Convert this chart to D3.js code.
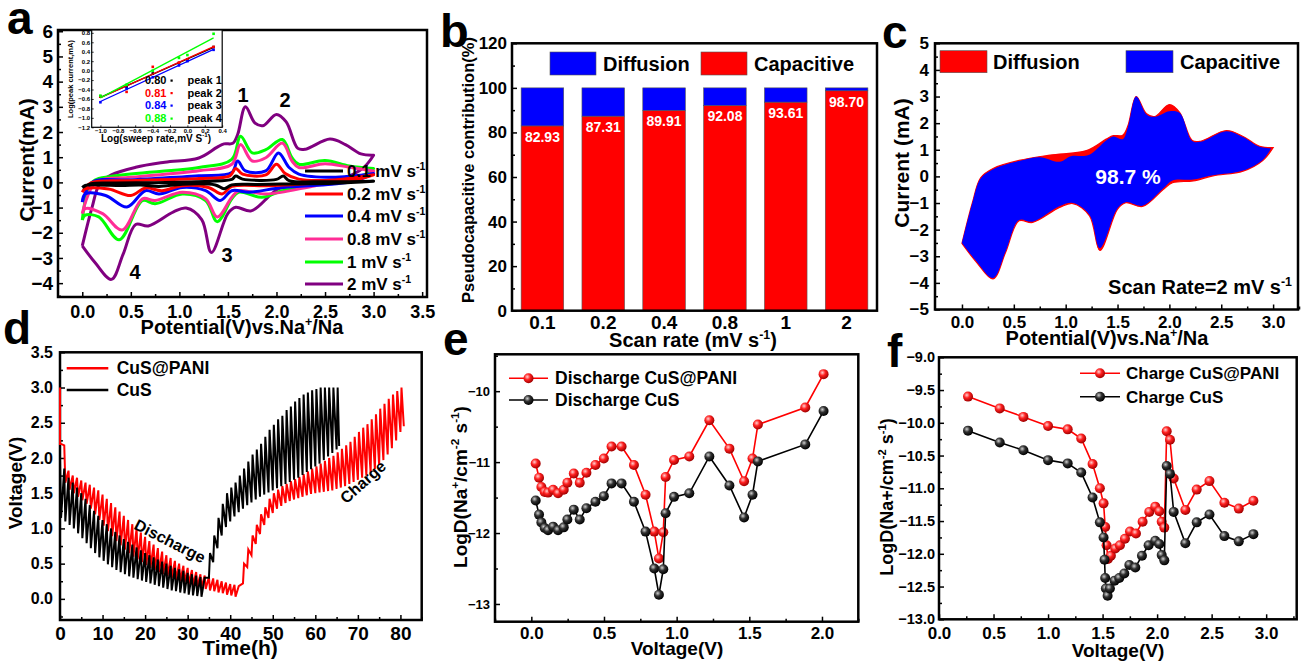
<!DOCTYPE html>
<html><head><meta charset="utf-8">
<script src="https://cdn.jsdelivr.net/npm/d3@7"></script>
<style>body{margin:0;background:#fff}</style>
</head><body>
<script>
// ---------------- DATA ----------------
// Panel a: CV curves (anodic up branch, cathodic down branch) [V, mA]
const cv01Up=[[0,-0.2],[0.09,-0.05],[0.3,-0.02],[0.86,0.0],[1.3,0.05],[1.54,0.12],[1.58,0.25],[1.65,0.13],[2.0,0.12],[2.07,0.25],[2.13,0.07],[2.5,0.03],[3.0,0.05]];
const cv01Dn=[[3.0,0.05],[2.6,-0.03],[2.23,-0.06],[1.8,-0.08],[1.54,-0.1],[1.46,-0.25],[1.37,-0.1],[1.03,-0.07],[0.79,-0.16],[0.6,-0.1],[0.4,-0.12],[0.17,-0.1],[0.03,-0.12],[0,-0.2]];
const cv02Up=[[0,-0.39],[0.09,-0.02],[0.5,0.07],[1.2,0.15],[1.52,0.26],[1.58,0.55],[1.65,0.33],[1.89,0.3],[2.0,0.72],[2.09,0.35],[2.23,0.13],[2.6,0.1],[3.0,0.3]];
const cv02Dn=[[3.0,0.3],[2.8,0.1],[2.23,-0.07],[1.89,-0.13],[1.54,-0.16],[1.44,-0.46],[1.3,-0.2],[1.03,-0.13],[0.82,-0.33],[0.65,-0.22],[0.5,-0.52],[0.27,-0.26],[0.03,-0.26],[0,-0.39]];
const cv04Up=[[0,-0.78],[0.1,0.0],[0.5,0.1],[1.2,0.26],[1.54,0.39],[1.6,0.85],[1.68,0.46],[1.89,0.46],[2.02,1.17],[2.13,0.59],[2.23,0.33],[2.57,0.2],[3.0,0.35]];
const cv04Dn=[[3.0,0.35],[2.8,0.05],[2.57,-0.07],[2.06,-0.2],[1.72,-0.39],[1.54,-0.33],[1.42,-0.72],[1.27,-0.33],[1.03,-0.2],[0.79,-0.46],[0.65,-0.33],[0.46,-0.98],[0.24,-0.52],[0.03,-0.46],[0,-0.78]];
const cv08Up=[[0,-1.24],[0.14,0.0],[0.5,0.2],[1.2,0.46],[1.54,0.72],[1.63,1.5],[1.75,0.85],[1.89,0.98],[2.06,1.56],[2.16,0.85],[2.23,0.59],[2.5,0.74],[2.75,0.6],[3.0,0.45]];
const cv08Dn=[[3.0,0.45],[2.92,0.26],[2.4,-0.13],[1.89,-0.46],[1.61,-0.33],[1.54,-0.59],[1.39,-1.37],[1.27,-0.65],[1.03,-0.39],[0.75,-0.72],[0.62,-0.65],[0.41,-1.89],[0.21,-1.24],[0.03,-1.04],[0,-1.24]];
const cv1Up=[[0,-1.5],[0.1,0.0],[0.34,0.26],[1.2,0.59],[1.54,0.91],[1.63,1.83],[1.75,1.17],[1.89,1.3],[2.06,1.7],[2.16,0.98],[2.23,0.72],[2.5,0.87],[2.75,0.65],[3.0,0.55]];
const cv1Dn=[[3.0,0.55],[2.92,0.33],[2.4,-0.07],[2.06,-0.33],[1.85,-0.59],[1.61,-0.39],[1.54,-0.65],[1.39,-1.56],[1.27,-0.72],[1.03,-0.46],[0.75,-0.85],[0.62,-0.72],[0.38,-2.28],[0.17,-1.37],[0.03,-1.3],[0,-1.5]];
const cv2Up=[[0,-2.52],[0.1,-1.0],[0.18,-0.05],[0.3,0.3],[0.55,0.6],[0.85,0.8],[1.2,0.97],[1.39,1.4],[1.46,1.53],[1.55,1.55],[1.6,1.9],[1.68,3.0],[1.78,2.35],[1.86,2.25],[2.0,2.7],[2.1,2.4],[2.22,1.35],[2.3,1.32],[2.55,1.72],[2.71,1.5],[2.87,1.13],[3.0,1.08]];
const cv2Dn=[[3.0,1.08],[2.9,0.6],[2.71,0.2],[2.42,0.02],[2.23,-0.17],[2.03,-0.24],[1.94,-0.49],[1.74,-1.13],[1.58,-0.99],[1.5,-1.23],[1.33,-2.78],[1.23,-1.48],[1.07,-1.02],[0.94,-1.17],[0.68,-1.73],[0.55,-1.67],[0.42,-2.86],[0.3,-3.85],[0.135,-3.2],[0,-2.52]];
const cvLabels=["0.1","0.2","0.4","0.8","1","2"];
const cvColors=["#000000","#ff0000","#0000ff","#ff2d96","#00ff00","#800080"];
// inset: log(sweep rate) vs log(peak current)
const logRate=[-1,-0.699,-0.398,-0.097,0,0.301];
const peak1=[-0.55,-0.35,-0.06,0.16,0.24,0.5];
const peak2=[-0.55,-0.45,0.08,0.17,0.22,0.5];
const peak3=[-0.67,-0.38,-0.14,0.11,0.2,0.44];
const peak4=[-0.53,-0.3,0.0,0.27,0.33,0.78];
const bValues=["0.80","0.81","0.84","0.88"];
const peakColors=["#000000","#ff0000","#0000ff","#00ff00"];
// Panel b
const scanRates=["0.1","0.2","0.4","0.8","1","2"];
const capacitive=[82.93,87.31,89.91,92.08,93.61,98.70];
const diffusion=[17.07,12.69,10.09,7.92,6.39,1.30];
// Panel c: capacitive part of 2 mV/s CV
const capUp=[[0,-2.5],[0.1,-1.0],[0.18,-0.08],[0.3,0.27],[0.55,0.58],[0.75,0.72],[0.94,0.55],[1.05,0.76],[1.22,0.8],[1.39,1.35],[1.46,1.5],[1.55,1.4],[1.6,1.85],[1.68,3.0],[1.78,2.33],[1.86,2.24],[2.0,2.45],[2.1,2.38],[2.22,1.33],[2.3,1.3],[2.55,1.7],[2.71,1.48],[2.87,1.11],[2.98,1.05]];
const capDn=[[2.98,1.05],[2.9,0.62],[2.71,0.22],[2.42,0.04],[2.23,-0.12],[2.03,-0.15],[1.94,-0.45],[1.74,-1.1],[1.58,-0.97],[1.5,-1.2],[1.33,-2.7],[1.23,-1.45],[1.07,-1.0],[0.94,-1.12],[0.68,-1.7],[0.55,-1.64],[0.42,-2.83],[0.3,-3.82],[0.135,-3.17],[0,-2.5]];
// Panel d: GITT
const cusDisTime=[0,1,2,3,4,5,6,7,8,9,10,11,12,13,14,15,16,17,18,19,20,21,22,23,24,25,26,27,28,29,30,31,32,33,34];
const cusDisTop=[1.98,1.85,1.72,1.65,1.58,1.5,1.42,1.33,1.25,1.18,1.12,1.06,1.0,0.95,0.9,0.85,0.81,0.77,0.73,0.69,0.65,0.62,0.59,0.56,0.53,0.5,0.47,0.44,0.42,0.4,0.37,0.35,0.33,0.31,0.3];
const cusDisLow=[1.15,1.1,1.05,1.0,0.93,0.86,0.79,0.72,0.65,0.59,0.54,0.49,0.45,0.41,0.38,0.35,0.32,0.3,0.28,0.26,0.24,0.22,0.2,0.18,0.16,0.14,0.12,0.11,0.09,0.08,0.06,0.05,0.04,0.03];
const cusChgTime=[35,36,37,38,39,40,41,42,43,44,45,46,47,48,49,50,51,52,53,54,55,56,57,58,59,60,61,62,63,64,65,65.6];
const cusChgBase=[0.3,0.52,0.72,0.9,1.02,1.1,1.17,1.23,1.28,1.33,1.37,1.41,1.45,1.48,1.51,1.54,1.57,1.6,1.63,1.66,1.69,1.72,1.76,1.8,1.84,1.88,1.92,1.97,2.02,2.07,2.12,2.17];
const cusChgHigh=[0.65,0.9,1.15,1.35,1.5,1.58,1.65,1.75,1.85,1.95,2.05,2.12,2.2,2.3,2.4,2.47,2.55,2.6,2.68,2.73,2.8,2.85,2.9,2.93,2.96,2.98,3.0,3.0,3.0,3.0,3.0];
const panStart=[0,3.0];
const panDisTime=[0,1,2,3,4,5,6,7,8,9,10,11,12,13,14,15,16,17,18,19,20,21,22,23,24,25,26,27,28,29,30,31,32,33,34,35,36,37,38,39,40,41,42];
const panDisTop=[2.2,2.18,1.82,1.75,1.72,1.68,1.65,1.62,1.58,1.54,1.48,1.42,1.36,1.3,1.24,1.18,1.12,1.06,1.0,0.94,0.88,0.82,0.77,0.72,0.67,0.62,0.58,0.54,0.5,0.47,0.44,0.41,0.38,0.35,0.33,0.31,0.29,0.27,0.25,0.23,0.21,0.2,0.18];
const panDisLow=[2.2,1.65,1.55,1.5,1.45,1.4,1.35,1.28,1.2,1.12,1.04,0.96,0.89,0.82,0.76,0.7,0.65,0.6,0.56,0.52,0.48,0.44,0.41,0.38,0.35,0.32,0.29,0.27,0.25,0.23,0.21,0.19,0.17,0.16,0.14,0.12,0.11,0.09,0.08,0.06,0.05,0.03];
const panChgTime=[43,44,45,46,47,48,49,50,51,52,53,54,55,56,57,58,59,60,61,62,63,64,65,66,67,68,69,70,71,72,73,74,75,76,77,78,79,80,80.8];
const panChgBase=[0.22,0.45,0.62,0.78,0.92,1.05,1.15,1.22,1.28,1.32,1.36,1.39,1.41,1.43,1.45,1.47,1.49,1.5,1.51,1.52,1.53,1.54,1.56,1.58,1.6,1.63,1.66,1.69,1.72,1.75,1.79,1.84,1.9,1.97,2.05,2.14,2.25,2.37,2.45];
const panChgHigh=[0.5,0.7,0.9,1.05,1.2,1.3,1.42,1.5,1.55,1.6,1.63,1.67,1.7,1.73,1.77,1.81,1.85,1.88,1.92,1.96,2.0,2.03,2.08,2.13,2.18,2.23,2.3,2.37,2.43,2.48,2.55,2.62,2.7,2.77,2.84,2.9,2.95,3.0];
// Panel e
const eV=[0.03,0.053,0.069,0.092,0.115,0.15,0.184,0.223,0.248,0.292,0.333,0.379,0.441,0.499,0.552,0.621,0.706,0.786,0.846,0.878,0.908,0.924,0.982,1.087,1.225,1.363,1.464,1.522,1.559,1.885,2.011];
const eRed=[-11.02,-11.22,-11.35,-11.42,-11.43,-11.39,-11.44,-11.39,-11.29,-11.16,-11.29,-11.15,-11.04,-10.95,-10.78,-10.78,-11.04,-11.46,-11.98,-12.36,-11.99,-11.21,-10.97,-10.92,-10.41,-10.81,-11.27,-10.95,-10.47,-10.23,-9.76];
const eBlack=[-11.54,-11.74,-11.85,-11.93,-11.96,-11.91,-11.96,-11.92,-11.81,-11.67,-11.81,-11.65,-11.56,-11.48,-11.3,-11.3,-11.56,-11.98,-12.5,-12.87,-12.51,-11.72,-11.49,-11.44,-10.92,-11.33,-11.78,-11.46,-10.99,-10.75,-10.28];
// Panel f
const fVRed=[0.266,0.557,0.774,1.0,1.18,1.304,1.408,1.475,1.509,1.524,1.537,1.549,1.576,1.616,1.659,1.705,1.751,1.806,1.867,1.928,1.983,2.02,2.042,2.066,2.088,2.118,2.152,2.259,2.363,2.48,2.617,2.749,2.883];
const fRed=[-9.6,-9.78,-9.91,-10.05,-10.1,-10.24,-10.63,-11.0,-11.23,-11.59,-11.87,-12.08,-12.03,-11.92,-11.87,-11.77,-11.66,-11.69,-11.51,-11.36,-11.28,-11.35,-11.51,-11.6,-10.13,-10.26,-10.85,-11.33,-11.02,-10.89,-11.22,-11.31,-11.19];
const fVBlack=[0.266,0.557,0.774,1.0,1.18,1.304,1.408,1.475,1.509,1.518,1.524,1.53,1.546,1.567,1.61,1.653,1.699,1.745,1.8,1.861,1.922,1.983,2.02,2.042,2.066,2.088,2.118,2.152,2.259,2.363,2.48,2.617,2.749,2.883];
const fBlack=[-10.12,-10.3,-10.42,-10.57,-10.62,-10.76,-11.14,-11.52,-11.75,-12.09,-12.37,-12.53,-12.64,-12.53,-12.41,-12.37,-12.3,-12.17,-12.21,-12.03,-11.87,-11.8,-11.85,-12.02,-12.1,-10.66,-10.78,-11.36,-11.84,-11.52,-11.4,-11.73,-11.81,-11.7];

// ---------------- HELPERS ----------------
const F="'Liberation Sans', Arial, Helvetica, sans-serif";
const svg=d3.select("body").append("svg").attr("width",1301).attr("height",661);
svg.append("rect").attr("width",1301).attr("height",661).attr("fill","#fff");
const defs=svg.append("defs");
function grad(id,c0,c1,c2){
  const g=defs.append("radialGradient").attr("id",id).attr("cx","38%").attr("cy","35%").attr("r","65%");
  g.append("stop").attr("offset","0%").attr("stop-color",c0);
  g.append("stop").attr("offset","45%").attr("stop-color",c1);
  g.append("stop").attr("offset","100%").attr("stop-color",c2);
}
grad("gRed","#ffd0d0","#ff2020","#a00000");
grad("gBlk","#d0d0d0","#303030","#000000");

function rich(g,x,y,parts,fs,o={}){
  const t=g.append("text").attr("x",x).attr("y",y+0.35*fs).attr("font-family",F).attr("font-weight","bold")
    .attr("font-size",fs).attr("text-anchor",o.anchor||"start").attr("fill",o.fill||"#000");
  if(o.rot!==undefined) t.attr("transform",`rotate(${o.rot},${x},${y})`);
  let prev=false;
  parts.forEach(p=>{
    const s=typeof p==="string"?p:p[0]; const sup=typeof p!=="string";
    const ts=t.append("tspan").text(s);
    if(sup){ts.attr("font-size",fs*0.62); if(!prev) ts.attr("dy",-0.42*fs);}
    else if(prev){ts.attr("dy",0.42*fs);}
    prev=sup;
  });
  return t;
}
function styleAxis(sel,fs){
  sel.select(".domain").remove();
  sel.attr("font-family",F).attr("font-size",fs).attr("font-weight","bold");
  sel.selectAll(".tick line").attr("stroke-width",1.5);
}
// ticks point inward (into the plot)
function axes(g,x,y,o){
  const yb=y.range()[0], xl=x.range()[0];
  const gx=g.append("g").attr("transform",`translate(0,${yb})`)
    .call(d3.axisBottom(x).tickValues(o.xt).tickFormat(o.xf).tickSizeInner(-(o.xtl??5)).tickSizeOuter(0).tickPadding(o.xp));
  styleAxis(gx,o.xfs);
  if(o.xm){const m=g.append("g").attr("transform",`translate(0,${yb})`).call(d3.axisBottom(x).tickValues(o.xm).tickFormat("").tickSizeInner(-3).tickSizeOuter(0));styleAxis(m,10);}
  const gy=g.append("g").attr("transform",`translate(${xl},0)`)
    .call(d3.axisLeft(y).tickValues(o.yt).tickFormat(o.yf).tickSizeInner(-5).tickSizeOuter(0).tickPadding(o.yp));
  styleAxis(gy,o.yfs);
  if(o.ym){const m=g.append("g").attr("transform",`translate(${xl},0)`).call(d3.axisLeft(y).tickValues(o.ym).tickFormat("").tickSizeInner(-3).tickSizeOuter(0));styleAxis(m,10);}
}
function frame(g,x,y,sw){
  const [x0,x1]=x.range(), [y0,y1]=y.range();
  g.append("rect").attr("x",x0).attr("y",y1).attr("width",x1-x0).attr("height",y0-y1)
    .attr("fill","none").attr("stroke","#000").attr("stroke-width",sw||2.5);
}
function panelLabel(ch,x,y,fs){
  svg.append("text").attr("x",x).attr("y",y).attr("font-family",F).attr("font-weight","bold").attr("font-size",fs||46).text(ch);
}
function loopPath(line,up,dn){
  return line(up)+line(dn).replace(/^M/,"L")+"Z";
}
const rng=(a,b,s)=>d3.range(a,b+s/2,s);

// ---------------- PANEL A ----------------
{
  const g=svg.append("g");
  const x=d3.scaleLinear([-0.25,3.55],[58,427]);
  const y=d3.scaleLinear([-4.55,6.05],[297,30]);
  axes(g,x,y,{xt:rng(0,3.5,0.5),xf:d3.format(".1f"),xfs:18,xp:8,xm:rng(0.25,3.25,0.5),
    yt:rng(-4,6,1),yf:d3.format("d"),yfs:19,ym:rng(-4.5,5.5,1),yp:5});
  const line=d3.line().x(d=>x(d[0])).y(d=>y(d[1])).curve(d3.curveCatmullRom.alpha(0.5));
  const ups=[cv01Up,cv02Up,cv04Up,cv08Up,cv1Up,cv2Up], dns=[cv01Dn,cv02Dn,cv04Dn,cv08Dn,cv1Dn,cv2Dn];
  [5,4,3,2,1,0].forEach(i=>{
    g.append("path").attr("d",line(ups[i])+line(dns[i]).replace(/^M/,"L")).attr("fill","none")
      .attr("stroke",cvColors[i]).attr("stroke-width",3).attr("stroke-linejoin","round");
  });
  const ly=[171,194,216,239,262,284];
  cvLabels.forEach((l,i)=>{
    g.append("line").attr("x1",305).attr("x2",343).attr("y1",ly[i]).attr("y2",ly[i]).attr("stroke",cvColors[i]).attr("stroke-width",3);
    rich(g,347,ly[i],[l+" mV s",["-1"]],17);
  });
  [["1",243,95],["2",285,100],["3",227,255],["4",135,272]].forEach(a=>rich(g,a[1],a[2],[a[0]],20,{anchor:"middle"}));
  rich(g,27,160,["Current(mA)"],21,{anchor:"middle",rot:-90});
  rich(g,242,327,["Potential(V)vs.Na",["+"],"/Na"],20,{anchor:"middle"});
  frame(g,x,y);
  // inset
  const ix=d3.scaleLinear([-1.1,0.4],[91.7,222.2]);
  const iy=d3.scaleLinear([-1.2,0.86],[127.3,30]);
  g.append("rect").attr("x",91.7).attr("y",30).attr("width",130.5).attr("height",97.3).attr("fill","#fff");
  const gx=g.append("g").attr("transform","translate(0,127.3)").call(d3.axisBottom(ix).tickValues(rng(-1,0.4,0.2)).tickFormat(d3.format(".1f")).tickSizeInner(-2).tickSizeOuter(0).tickPadding(1.5));
  styleAxis(gx,6); gx.selectAll(".tick line").attr("stroke-width",0.8);
  const gy=g.append("g").attr("transform","translate(91.7,0)").call(d3.axisLeft(iy).tickValues(rng(-1.2,0.8,0.2)).tickFormat(d3.format(".1f")).tickSizeInner(-2).tickSizeOuter(0).tickPadding(1.5));
  styleAxis(gy,6); gy.selectAll(".tick line").attr("stroke-width",0.8);
  [peak1,peak2,peak3,peak4].forEach((p,k)=>{
    const pts=logRate.map((v,i)=>[v,p[i]]);
    const mx=d3.mean(logRate), my=d3.mean(p);
    const sl=d3.sum(logRate.map((v,i)=>(v-mx)*(p[i]-my)))/d3.sum(logRate.map(v=>(v-mx)*(v-mx)));
    const b=my-sl*mx;
    g.append("line").attr("x1",ix(-1)).attr("x2",ix(0.301)).attr("y1",iy(-sl+b)).attr("y2",iy(sl*0.301+b))
      .attr("stroke",peakColors[k]).attr("stroke-width",1.3);
    g.selectAll(null).data(pts).join("rect").attr("x",d=>ix(d[0])-1.3).attr("y",d=>iy(d[1])-1.3).attr("width",2.6).attr("height",2.6).attr("fill",peakColors[k]);
  });
  const iry=[80.5,93,105.5,118.5];
  bValues.forEach((b,k)=>{
    rich(g,145,iry[k],[b],11,{fill:peakColors[k]});
    g.append("rect").attr("x",170.5).attr("y",iry[k]-1).attr("width",2.2).attr("height",2.2).attr("fill",peakColors[k]);
    rich(g,187.5,iry[k],["peak "+(k+1)],11);
  });
  g.append("rect").attr("x",91.7).attr("y",30).attr("width",130.5).attr("height",97.3).attr("fill","none").attr("stroke","#000").attr("stroke-width",1.2);
  rich(g,70,79,["Log(peak current,mA)"],7.5,{anchor:"middle",rot:-90});
  rich(g,156,138,["Log(sweep rate,mV S",["-1"],")"],10,{anchor:"middle"});
  panelLabel("a",7,34,46);
}

// ---------------- PANEL B ----------------
{
  const g=svg.append("g");
  const x=d3.scaleBand(scanRates,[512,877]).paddingInner(0.3).paddingOuter(0.15);
  const y=d3.scaleLinear([0,120],[310.7,43.3]);
  axes(g,x,y,{xt:scanRates,xf:d=>d,xfs:19,xtl:0,xp:5,yt:rng(0,120,20),yf:d3.format("d"),yfs:17,ym:rng(10,110,20),yp:5});
  g.selectAll(null).data(scanRates).join("rect").attr("x",d=>x(d)).attr("width",x.bandwidth())
    .attr("y",(d,i)=>y(capacitive[i])).attr("height",(d,i)=>y(0)-y(capacitive[i])).attr("fill","#ff0000").attr("stroke","#555").attr("stroke-width",0.6);
  g.selectAll(null).data(scanRates).join("rect").attr("x",d=>x(d)).attr("width",x.bandwidth())
    .attr("y",(d,i)=>y(capacitive[i]+diffusion[i])).attr("height",(d,i)=>y(capacitive[i])-y(capacitive[i]+diffusion[i])).attr("fill","#0000ff").attr("stroke","#555").attr("stroke-width",0.6);
  scanRates.forEach((d,i)=>rich(g,x(d)+x.bandwidth()/2,y(capacitive[i])+11,[capacitive[i].toFixed(2)],14,{anchor:"middle",fill:"#fff"}));
  g.append("rect").attr("x",550).attr("y",52).attr("width",46).attr("height",23).attr("fill","#0000ff").attr("stroke","#555").attr("stroke-width",0.6);
  rich(g,603,63.5,["Diffusion"],20);
  g.append("rect").attr("x",701).attr("y",52).attr("width",46).attr("height",23).attr("fill","#ff0000").attr("stroke","#555").attr("stroke-width",0.6);
  rich(g,754,63.5,["Capacitive"],20);
  frame(g,{range:()=>[512,877]},y);
  rich(g,468,170,["Pseudocapacitive contribution(%)"],16.5,{anchor:"middle",rot:-90});
  rich(g,693,340,["Scan rate (mV s",["-1"],")"],20,{anchor:"middle"});
  panelLabel("b",440,47,47);
}

// ---------------- PANEL C ----------------
{
  const g=svg.append("g");
  const x=d3.scaleLinear([-0.26,3.24],[935,1298]);
  const y=d3.scaleLinear([-5,5],[309.5,43.3]);
  axes(g,x,y,{xt:rng(0,3,0.5),xf:d3.format(".1f"),xfs:17,xp:6,xm:rng(0.25,3.25,0.5),yt:rng(-5,5,1),yf:d3.format("d"),yfs:17,ym:rng(-4.5,4.5,1),yp:6});
  const line=d3.line().x(d=>x(d[0])).y(d=>y(d[1])).curve(d3.curveCatmullRom.alpha(0.5));
  g.append("path").attr("d",loopPath(line,cv2Up,cv2Dn)).attr("fill","#ff0000").attr("stroke","#ff0000").attr("stroke-width",1.2);
  g.append("path").attr("d",loopPath(line,capUp,capDn)).attr("fill","#0000ff");
  g.append("rect").attr("x",940).attr("y",50.7).attr("width",47).attr("height",22).attr("fill","#ff0000").attr("stroke","#555").attr("stroke-width",0.6);
  rich(g,993,62,["Diffusion"],20);
  g.append("rect").attr("x",1126).attr("y",50.7).attr("width",47).attr("height",22).attr("fill","#0000ff").attr("stroke","#555").attr("stroke-width",0.6);
  rich(g,1180,62,["Capacitive"],20);
  rich(g,1128,177,["98.7 %"],21,{anchor:"middle",fill:"#fff"});
  rich(g,1292,287,["Scan Rate=2 mV s",["-1"]],20,{anchor:"end"});
  frame(g,x,y);
  rich(g,902,163,["Current (mA)"],21,{anchor:"middle",rot:-90});
  rich(g,1107,338,["Potential(V)vs.Na",["+"],"/Na"],20,{anchor:"middle"});
  panelLabel("c",882,48,46);
}

// ---------------- PANEL D ----------------
{
  const g=svg.append("g");
  const x=d3.scaleLinear([0,85],[60,421.7]);
  const y=d3.scaleLinear([-0.3,3.5],[620,352.3]);
  axes(g,x,y,{xt:rng(0,80,10),xf:d3.format("d"),xfs:19,xp:6.5,xm:rng(5,85,10),yt:rng(0,3.5,0.5),yf:d3.format(".1f"),yfs:16,ym:rng(-0.25,3.25,0.5),yp:7});
  const line=d3.line().x(d=>x(d[0])).y(d=>y(d[1]));
  const pw=0.25;
  function disPts(T,top,low,pre){
    const p=pre?[pre]:[];
    low.forEach((l,i)=>{p.push([T[i],top[i]]);p.push([T[i]+pw,l]);});
    p.push([T[T.length-1],top[top.length-1]]);
    return p;
  }
  function chgPts(T,base,high){
    const p=[];
    high.forEach((h,i)=>{p.push([T[i],base[i]]);p.push([T[i]+pw,h]);});
    p.push([T[T.length-1],base[base.length-1]]);
    return p;
  }
  const red=disPts(panDisTime,panDisTop,panDisLow,panStart).concat(chgPts(panChgTime,panChgBase,panChgHigh));
  const blk=disPts(cusDisTime,cusDisTop,cusDisLow).concat(chgPts(cusChgTime,cusChgBase,cusChgHigh));
  frame(g,x,y);
  g.append("path").attr("d",line(red)).attr("fill","none").attr("stroke","#ff0000").attr("stroke-width",2);
  g.append("path").attr("d",line(blk)).attr("fill","none").attr("stroke","#000").attr("stroke-width",2);
  g.append("line").attr("x1",66.7).attr("x2",108.3).attr("y1",368.3).attr("y2",368.3).attr("stroke","#ff0000").attr("stroke-width",2.5);
  rich(g,116.7,368.3,["CuS@PANI"],17.5);
  g.append("line").attr("x1",66.7).attr("x2",108.3).attr("y1",390).attr("y2",390).attr("stroke","#000").attr("stroke-width",2.5);
  rich(g,116.7,390,["CuS"],17.5);
  rich(g,170,541,["Discharge"],16,{anchor:"middle",rot:27});
  rich(g,363,482,["Charge"],16,{anchor:"middle",rot:-42});
  rich(g,15,483,["Voltage(V)"],19,{anchor:"middle",rot:-90});
  rich(g,240,648,["Time(h)"],21,{anchor:"middle"});
  panelLabel("d",3,344,46);
}

// ---------------- PANEL E / F ----------------
function diffPanel(o){
  const g=svg.append("g");
  const {x,y}=o;
  axes(g,x,y,o.ax);
  const line=d3.line().x(d=>x(d[0])).y(d=>y(d[1]));
  o.series.forEach(s=>{
    const pts=s.v.map((v,i)=>[v,s.d[i]]);
    g.append("path").attr("d",line(pts)).attr("fill","none").attr("stroke",s.c).attr("stroke-width",1.6);
    g.selectAll(null).data(pts).join("circle").attr("cx",d=>x(d[0])).attr("cy",d=>y(d[1])).attr("r",5).attr("fill",`url(#${s.g})`);
  });
  o.series.forEach((s,i)=>{
    const ly=o.leg.y[i];
    g.append("line").attr("x1",o.leg.x0).attr("x2",o.leg.x1).attr("y1",ly).attr("y2",ly).attr("stroke",s.c).attr("stroke-width",1.6);
    g.append("circle").attr("cx",(o.leg.x0+o.leg.x1)/2).attr("cy",ly).attr("r",5).attr("fill",`url(#${s.g})`);
    rich(g,o.leg.tx,ly,[s.name],o.leg.fs);
  });
  frame(g,x,y);
  return g;
}
{
  const x=d3.scaleLinear([-0.25,2.25],[495,858.3]);
  const y=d3.scaleLinear([-13.25,-9.48],[621.7,354.3]);
  const g=diffPanel({x,y,
    ax:{xt:rng(0,2,0.5),xf:d3.format(".1f"),xfs:17,xp:5.5,xm:rng(-0.25,2.25,0.5),yt:rng(-13,-10,1),yf:d3.format("d"),yfs:13,ym:rng(-12.5,-9.5,1),yp:5},
    series:[{v:eV,d:eRed,c:"#ff0000",g:"gRed",name:"Discharge CuS@PANI"},{v:eV,d:eBlack,c:"#000",g:"gBlk",name:"Discharge CuS"}],
    leg:{x0:509,x1:548,y:[378.3,400],tx:555,fs:17.5}});
  rich(g,460,487,["LogD(Na",["+"],"/cm",["-2"]," s",["-1"],")"],19,{anchor:"middle",rot:-90});
  rich(g,677,648,["Voltage(V)"],19,{anchor:"middle"});
  panelLabel("e",443,355,46);
}
{
  const x=d3.scaleLinear([0,3.28],[939,1296.7]);
  const y=d3.scaleLinear([-13,-9],[619.3,357.3]);
  const g=diffPanel({x,y,
    ax:{xt:rng(0,3,0.5),xf:d3.format(".1f"),xfs:17,xp:8,xm:rng(0.25,3.25,0.5),yt:rng(-13,-9,0.5),yf:d3.format(".1f"),yfs:14.5,ym:rng(-12.75,-9.25,0.5),yp:4},
    series:[{v:fVRed,d:fRed,c:"#ff0000",g:"gRed",name:"Charge CuS@PANI"},{v:fVBlack,d:fBlack,c:"#000",g:"gBlk",name:"Charge CuS"}],
    leg:{x0:1080,x1:1120,y:[373.3,396.7],tx:1126,fs:17}});
  rich(g,887,497,["LogD(Na+/cm",["-2"]," s",["-1"],")"],18,{anchor:"middle",rot:-90});
  rich(g,1118,650,["Voltage(V)"],19,{anchor:"middle"});
  panelLabel("f",887,367,46);
}
</script>
</body></html>
